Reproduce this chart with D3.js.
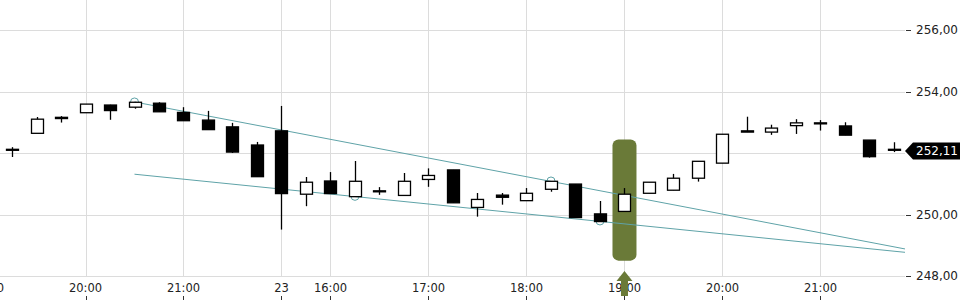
<!DOCTYPE html>
<html><head><meta charset="utf-8">
<script src="https://cdn.jsdelivr.net/npm/d3@7"></script>
<style>html,body{margin:0;padding:0;background:#fff;}svg{display:block;font-family:"DejaVu Sans",sans-serif;}</style>
</head><body>
<svg id="c" width="960" height="300"></svg>
<script>
const openP  = [252.12,252.64,253.16,253.31,253.56,253.49,253.62,253.32,253.07,252.85,252.26,252.72,250.66,251.09,250.58,250.77,250.62,251.14,251.45,250.23,250.63,250.45,250.82,250.99,250.02,250.10,250.69,250.79,251.18,251.67,252.72,252.68,252.89,252.98,252.88,252.42,252.12];
const highP  = [252.19,253.17,253.20,253.59,253.57,253.66,253.65,253.49,253.37,252.98,252.36,253.53,251.22,251.38,251.74,250.89,251.35,251.50,251.45,250.70,250.70,250.86,251.08,250.99,250.44,250.86,251.05,251.32,251.73,252.61,253.18,252.92,253.10,253.07,253.00,252.42,252.35];
const lowP   = [251.87,252.64,252.99,253.31,253.08,253.44,253.34,253.05,252.76,252.00,251.23,249.51,250.27,250.68,250.58,250.64,250.62,250.90,250.38,249.93,250.32,250.45,250.74,249.90,249.77,250.10,250.69,250.79,251.07,251.67,252.68,252.59,252.62,252.73,252.58,251.85,252.03];
const closeP = [252.10,253.10,253.12,253.59,253.38,253.65,253.34,253.05,252.76,252.03,251.23,250.68,251.05,250.68,251.08,250.75,251.08,251.27,250.38,250.49,250.56,250.69,251.08,249.90,249.77,250.66,251.05,251.18,251.73,252.61,252.68,252.81,252.98,252.97,252.58,251.88,252.11];
const tickIdx = [-1,3,7,11,13,17,21,25,29,33];
const tickLabels = ["19:00","20:00","21:00","23","16:00","17:00","18:00","19:00","20:00","21:00"];
const yTicks = [248,250,252,254,256];
const upperTrend = [[5,253.66],[36.45,248.88]];
const lowerTrend = [[5,251.31],[36.45,248.77]];
const touchPoints = [[5,253.66],[22,251.09],[14,250.59],[24,249.79]];
const signalIdx = 25;
const signalBand = [248.5,252.44];
const lastPrice = 252.11;

const svg = d3.select("#c");
const W = 960, H = 300, plotR = 905, plotB = 276;
const x = d3.scaleLinear().domain([-0.49, 36.45]).range([0, plotR]);
const y = d3.scaleLinear().domain([248, 256]).range([plotB, 30]);
const teal = "#5fa3a8", olive = "#6a7a38";
const fmt = v => d3.format(".2f")(v).replace(".", ",");
const ly = y(lastPrice)+1.5;

// grid
svg.append("g").selectAll("line").data(yTicks).join("line")
  .attr("x1",0).attr("x2",plotR).attr("y1",d=>Math.round(y(d))+0.5).attr("y2",d=>Math.round(y(d))+0.5)
  .attr("stroke","#dcdcdc").attr("stroke-width",1);
svg.append("g").selectAll("line").data(tickIdx).join("line")
  .attr("x1",d=>Math.round(x(d))+0.5).attr("x2",d=>Math.round(x(d))+0.5).attr("y1",0).attr("y2",plotB)
  .attr("stroke","#dcdcdc").attr("stroke-width",1);

// right axis (labels hidden behind the last-price tag are skipped)
const yVisible = yTicks.filter(d=>Math.abs(y(d)-ly)>14);
const ya = svg.append("g");
ya.selectAll("line").data(yVisible).join("line")
  .attr("x1",906).attr("x2",911).attr("y1",d=>Math.round(y(d))+0.5).attr("y2",d=>Math.round(y(d))+0.5)
  .attr("stroke","#333");
ya.selectAll("text").data(yVisible).join("text")
  .attr("x",916).attr("y",d=>y(d)).attr("dy","0.35em").attr("font-size",12).attr("fill","#222")
  .text(d=>fmt(d));

// x axis labels
const xa = svg.append("g");
xa.selectAll("text").data(tickIdx).join("text")
  .attr("x",d=>x(d)).attr("y",292).attr("text-anchor","middle").attr("font-size",11.5).attr("fill","#222")
  .text((d,i)=>tickLabels[i]);
xa.selectAll("line").data(tickIdx).join("line")
  .attr("x1",d=>Math.round(x(d))+0.5).attr("x2",d=>Math.round(x(d))+0.5).attr("y1",296).attr("y2",300)
  .attr("stroke","#333");

// signal highlight
const sx = x(signalIdx);
svg.append("rect").attr("x",sx-12).attr("y",y(signalBand[1])).attr("width",24)
  .attr("height",y(signalBand[0])-y(signalBand[1])).attr("rx",6).attr("fill",olive);
svg.append("path").attr("fill",olive)
  .attr("d",`M${sx},271 L${sx+8},281 L${sx+3.5},281 L${sx+3.5},296 L${sx-3.5},296 L${sx-3.5},281 L${sx-8},281 Z`);

// trend lines
const line = d3.line().x(d=>x(d[0])).y(d=>y(d[1]));
[upperTrend, lowerTrend].forEach(t=>{
  svg.append("path").attr("d",line(t)).attr("stroke",teal).attr("stroke-width",1).attr("fill","none");
});
svg.append("g").selectAll("circle").data(touchPoints).join("circle")
  .attr("cx",d=>x(d[0])).attr("cy",d=>y(d[1])).attr("r",4)
  .attr("fill","none").attr("stroke",teal).attr("stroke-width",1);

// candles
const idx = d3.range(openP.length);
const cg = svg.append("g");
cg.selectAll("line").data(idx).join("line")
  .attr("x1",i=>Math.round(x(i))+0.5).attr("x2",i=>Math.round(x(i))+0.5)
  .attr("y1",i=>y(highP[i])).attr("y2",i=>y(lowP[i]))
  .attr("stroke","#000").attr("stroke-width",1.3);
cg.selectAll("rect").data(idx).join("rect")
  .attr("x",i=>Math.round(x(i))-6+0.5).attr("width",12)
  .attr("y",i=>y(Math.max(openP[i],closeP[i])))
  .attr("height",i=>Math.max(1,Math.abs(y(openP[i])-y(closeP[i]))))
  .attr("fill",i=>closeP[i]>=openP[i]?"#fff":"#000")
  .attr("stroke","#000").attr("stroke-width",1.3);

// last price label
svg.append("path").attr("fill","#000")
  .attr("d",`M905,${ly} L913,${ly-8.5} L960,${ly-8.5} L960,${ly+8.5} L913,${ly+8.5} Z`);
svg.append("text").attr("x",916).attr("y",ly).attr("dy","0.35em").attr("font-size",12).attr("fill","#fff")
  .text(fmt(lastPrice));
</script>
</body></html>
